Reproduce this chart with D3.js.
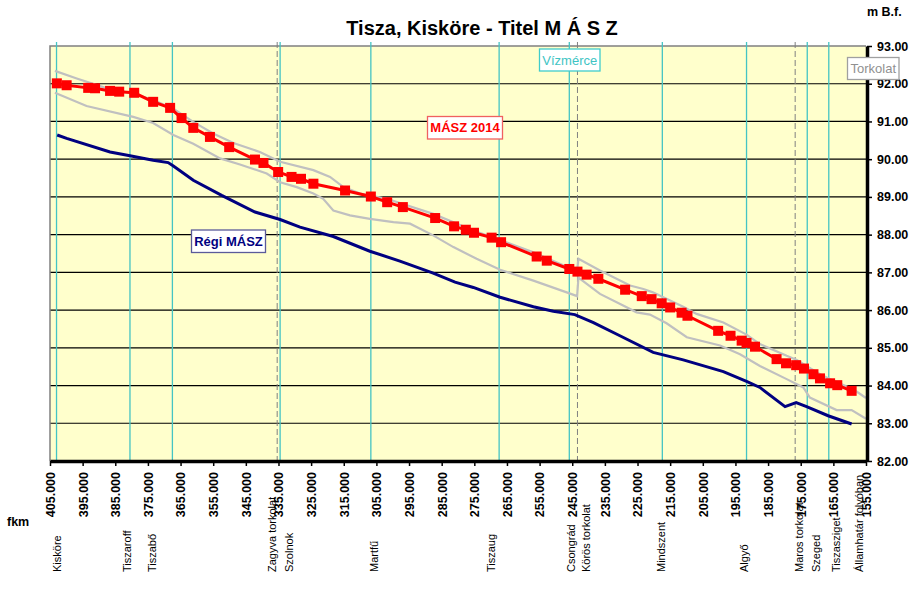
<!DOCTYPE html>
<html>
<head>
<meta charset="utf-8">
<script src="https://cdn.jsdelivr.net/npm/d3@7"></script>
<style>
  body { margin: 0; background: #fff; }
  svg { font-family: "Liberation Sans", Arial, sans-serif; }
</style>
</head>
<body>
<div id="chart"></div>
<script>
const WIDTH = 924;
const HEIGHT = 590;
const PLOT = { left: 50, right: 866, top: 46, bottom: 461 };

// river km ticks and water level ticks
const KM_TICKS = d3.range(405, 154, -10);
const LEVEL_TICKS = d3.range(82, 94, 1);

// [fkm, m B.f.]
const masz2014 = [
  [402.9, 92.01], [399.9, 91.96], [393.3, 91.89], [391.2, 91.88], [386.6, 91.81], [383.8, 91.79],
  [379.2, 91.76], [373.4, 91.52], [368.2, 91.36], [364.7, 91.09], [361.1, 90.83], [356.0, 90.59],
  [350.1, 90.32], [342.2, 89.99], [339.6, 89.90], [335.1, 89.66], [331.0, 89.53], [328.1, 89.48],
  [324.3, 89.35], [314.6, 89.17], [306.7, 89.01], [301.7, 88.86], [296.9, 88.73], [287.0, 88.44],
  [281.2, 88.22], [277.6, 88.13], [275.1, 88.05], [269.7, 87.92], [266.8, 87.80], [255.9, 87.42],
  [252.8, 87.31], [245.9, 87.09], [243.4, 87.02], [240.6, 86.94], [237.0, 86.83], [228.8, 86.54],
  [223.7, 86.37], [220.7, 86.29], [217.6, 86.18], [215.0, 86.07], [211.5, 85.93], [209.7, 85.85],
  [200.3, 85.45], [196.5, 85.32], [193.1, 85.19], [191.6, 85.13], [189.0, 85.03], [182.4, 84.70],
  [179.5, 84.59], [176.4, 84.54], [174.0, 84.45], [171.1, 84.30], [169.1, 84.19], [166.0, 84.06],
  [163.8, 84.01], [159.4, 83.86]
];

const regiMasz = [
  [402.8, 90.64], [399.9, 90.55], [386.6, 90.19], [380.5, 90.09], [373.4, 89.97], [368.8, 89.91],
  [367.2, 89.82], [361.1, 89.44], [352.4, 89.04], [342.2, 88.60], [334.5, 88.40], [328.4, 88.20],
  [318.2, 87.95], [307.0, 87.56], [297.8, 87.30], [287.6, 86.98], [280.9, 86.74], [275.3, 86.60],
  [267.1, 86.34], [256.9, 86.09], [250.8, 85.97], [244.2, 85.88], [238.5, 85.67], [230.4, 85.32],
  [220.2, 84.88], [211.0, 84.68], [198.7, 84.37], [191.6, 84.11], [187.5, 83.95], [179.8, 83.44],
  [176.4, 83.55], [173.2, 83.44], [166.6, 83.20], [159.4, 82.98]
];

const grayUpper = [
  [403.5, 92.34], [396.8, 92.14], [386.6, 91.85], [379.5, 91.74], [373.4, 91.57], [367.2, 91.34],
  [361.1, 90.99], [355.0, 90.68], [348.8, 90.43], [340.7, 90.19], [334.5, 89.93], [324.3, 89.71],
  [319.2, 89.53], [315.1, 89.26], [310.0, 89.09], [301.8, 88.95], [287.6, 88.55], [275.3, 88.11],
  [267.1, 87.86], [256.9, 87.53], [246.7, 87.15], [243.5, 87.05], [243.1, 87.36], [236.5, 87.05],
  [227.3, 86.65], [223.2, 86.56], [220.3, 86.47], [211.0, 86.09], [206.9, 85.90], [198.7, 85.67],
  [191.6, 85.35], [187.5, 85.10], [179.3, 84.79], [176.2, 84.68], [169.1, 84.30], [165.0, 84.13],
  [158.9, 83.90], [155.0, 83.67]
];

const grayLower = [
  [403.5, 91.76], [393.8, 91.41], [379.5, 91.12], [373.4, 90.96], [367.2, 90.64], [361.1, 90.41],
  [352.9, 90.02], [346.8, 89.86], [338.6, 89.62], [334.5, 89.39], [329.4, 89.26], [324.3, 89.09],
  [321.3, 88.95], [318.2, 88.64], [313.1, 88.51], [307.0, 88.42], [299.8, 88.33], [294.7, 88.29],
  [287.6, 87.98], [281.4, 87.67], [274.3, 87.36], [267.1, 87.07], [256.9, 86.78], [246.7, 86.47],
  [243.5, 86.37], [243.1, 86.86], [236.5, 86.43], [229.4, 86.12], [225.3, 85.94], [221.2, 85.88],
  [216.1, 85.65], [209.9, 85.28], [199.7, 85.06], [193.6, 84.83], [187.5, 84.52], [179.3, 84.17],
  [174.2, 83.95], [172.2, 83.68], [164.0, 83.35], [159.4, 83.35], [155.0, 83.12]
];

// gauges (vízmérce) and tributary mouths (torkolat)
const gaugeKm = [403.0, 380.5, 367.5, 334.5, 306.7, 267.4, 245.9, 217.4, 191.6, 173.0, 166.4];
const mouthKm = [335.4, 243.4, 176.7];

const stationNames = ['Kisköre', 'Tiszaroff', 'Tiszabő', 'Zagyva torkolat', 'Szolnok', 'Martfű', 'Tiszaug',
  'Csongrád', 'Körös torkolat', 'Mindszent', 'Algyő', 'Maros torkolat', 'Szeged', 'Tiszasziget', 'Államhatár folyóban'];
const stationKm = [402.7, 381.4, 373.6, 336.8, 331.8, 305.7, 269.9, 245.4, 240.8, 217.8, 192.4, 175.5, 170.3, 164.2, 157.1];

const svg = d3.select('#chart')
  .append('svg')
  .attr('width', WIDTH)
  .attr('height', HEIGHT);

const x = d3.scaleLinear().domain([405, 155]).range([PLOT.left, PLOT.right]);
const y = d3.scaleLinear().domain([82, 93]).range([PLOT.bottom, PLOT.top]);

// plot background
svg.append('rect')
  .attr('x', PLOT.left).attr('y', PLOT.top)
  .attr('width', PLOT.right - PLOT.left).attr('height', PLOT.bottom - PLOT.top)
  .attr('fill', '#FFFFCC');

// horizontal gridlines
svg.append('g').selectAll('line')
  .data(LEVEL_TICKS.filter(d => d > 82 && d < 93))
  .enter().append('line')
  .attr('x1', PLOT.left).attr('x2', PLOT.right)
  .attr('y1', d => y(d)).attr('y2', d => y(d))
  .attr('stroke', '#000').attr('stroke-width', 1.2);

// gray left + top border
svg.append('path')
  .attr('d', `M${PLOT.left},${PLOT.bottom}V${PLOT.top}H${PLOT.right}`)
  .attr('fill', 'none').attr('stroke', '#808080').attr('stroke-width', 1.5);

// gauge lines
svg.append('g').selectAll('line')
  .data(gaugeKm)
  .enter().append('line')
  .attr('x1', d => x(d)).attr('x2', d => x(d))
  .attr('y1', PLOT.top - 4).attr('y2', PLOT.bottom + 2)
  .attr('stroke', '#44C4C4').attr('stroke-width', 1.3);

// mouth lines, dashed
svg.append('g').selectAll('line')
  .data(mouthKm)
  .enter().append('line')
  .attr('x1', d => x(d)).attr('x2', d => x(d))
  .attr('y1', PLOT.top - 4).attr('y2', PLOT.bottom)
  .attr('stroke', '#808080').attr('stroke-width', 1)
  .attr('stroke-dasharray', '6,3');

const line = d3.line().x(d => x(d[0])).y(d => y(d[1]));

svg.append('path').datum(grayUpper)
  .attr('d', line).attr('fill', 'none').attr('stroke', '#C0C0C0').attr('stroke-width', 2.2);
svg.append('path').datum(grayLower)
  .attr('d', line).attr('fill', 'none').attr('stroke', '#C0C0C0').attr('stroke-width', 2.2);
svg.append('path').datum(regiMasz)
  .attr('d', line).attr('fill', 'none').attr('stroke', '#000080').attr('stroke-width', 3);
svg.append('path').datum(masz2014)
  .attr('d', line).attr('fill', 'none').attr('stroke', '#FF0000').attr('stroke-width', 3);

svg.append('g').selectAll('rect')
  .data(masz2014)
  .enter().append('rect')
  .attr('x', d => x(d[0]) - 5).attr('y', d => y(d[1]) - 5)
  .attr('width', 10).attr('height', 10)
  .attr('fill', '#FF0000');

// right axis
const yAxis = d3.axisRight(y).tickValues(LEVEL_TICKS).tickFormat(d3.format('.2f'))
  .tickSize(5).tickSizeOuter(0).tickPadding(5);
const yG = svg.append('g')
  .attr('transform', `translate(${PLOT.right + 1}, 0)`)
  .call(yAxis);
yG.select('.domain').attr('stroke-width', 3.5);
yG.selectAll('.tick line').attr('stroke-width', 1.5);
yG.selectAll('text').attr('font-size', 12.5).attr('font-weight', 'bold').attr('fill', '#000')
  .attr('font-family', '"Liberation Sans", Arial, sans-serif');

// bottom axis
const xAxis = d3.axisBottom(x).tickValues(KM_TICKS).tickFormat(d3.format('.3f'))
  .tickSize(5).tickSizeOuter(0);
const xG = svg.append('g')
  .attr('transform', `translate(0, ${PLOT.bottom})`)
  .call(xAxis);
xG.select('.domain').attr('stroke-width', 3.5);
xG.selectAll('.tick line').attr('stroke-width', 1.5);
xG.selectAll('text')
  .attr('transform', 'rotate(-90)')
  .attr('x', -11).attr('y', 0).attr('dy', '0.35em')
  .attr('text-anchor', 'end')
  .attr('font-size', 12.5).attr('font-weight', 'bold').attr('fill', '#000')
  .attr('font-family', '"Liberation Sans", Arial, sans-serif');

// station names
svg.append('g').selectAll('text')
  .data(stationNames)
  .enter().append('text')
  .attr('transform', (d, i) => `translate(${x(stationKm[i])}, 572) rotate(-90)`)
  .attr('dy', '0.35em')
  .attr('font-size', 11)
  .attr('fill', '#000')
  .text(d => d);

// titles
svg.append('text')
  .attr('x', 482).attr('y', 35)
  .attr('text-anchor', 'middle')
  .attr('font-size', 20).attr('font-weight', 'bold')
  .text('Tisza, Kisköre - Titel M Á S Z');

svg.append('text')
  .attr('x', 867).attr('y', 16)
  .attr('font-size', 12.5).attr('font-weight', 'bold')
  .text('m B.f.');

svg.append('text')
  .attr('x', 7).attr('y', 526)
  .attr('font-size', 12.5).attr('font-weight', 'bold')
  .text('fkm');

// label boxes
function labelBox(text, bx, by, bw, bh, color, border, bold) {
  svg.append('rect')
    .attr('x', bx).attr('y', by).attr('width', bw).attr('height', bh)
    .attr('fill', '#fff').attr('stroke', border).attr('stroke-width', 1.3);
  svg.append('text')
    .attr('x', bx + bw / 2).attr('y', by + bh / 2)
    .attr('dy', '0.36em')
    .attr('text-anchor', 'middle')
    .attr('font-size', 13)
    .attr('font-weight', bold ? 'bold' : 'normal')
    .attr('fill', color)
    .text(text);
}
labelBox('MÁSZ 2014', 427.5, 116.5, 75, 22.5, '#FF0000', '#F06060', true);
labelBox('Régi MÁSZ', 191.5, 230, 74, 22.5, '#000080', '#5A5A9A', true);
labelBox('Vízmérce', 539.5, 49, 60.5, 22, '#40C4C4', '#40CCCC', false);
labelBox('Torkolat', 847.5, 57.5, 51.5, 22, '#909090', '#A0A0A0', false);
</script>
</body>
</html>
